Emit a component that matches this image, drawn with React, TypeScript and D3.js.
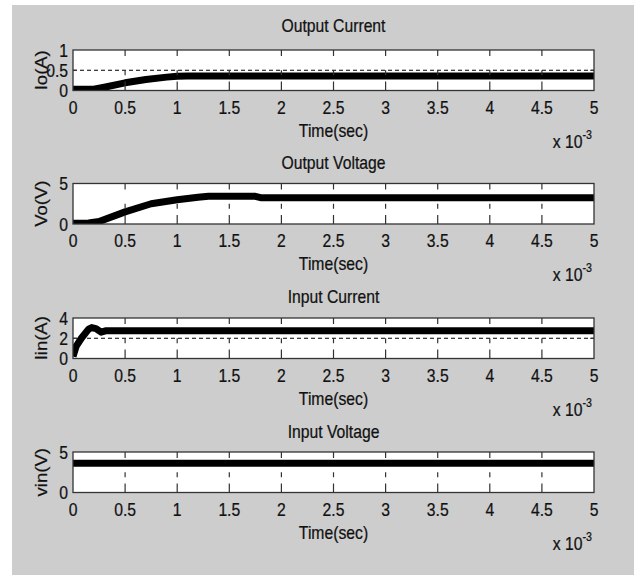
import React from "react";
import * as d3 from "d3";

// ---- data ----
const timeTicks = [0, 0.5, 1, 1.5, 2, 2.5, 3, 3.5, 4, 4.5, 5];
const titles = ["Output Current", "Output Voltage", "Input Current", "Input Voltage"];
const yLabels = ["Io(A)", "Vo(V)", "Iin(A)", "vin(V)"];
const yDomains = [[0, 1], [0, 5], [0, 4], [0, 5]];
const yTicks = [[0, 0.5, 1], [0, 5], [0, 2, 4], [0, 5]];
const refLines = [[0.5], [], [2], []];

const ioTime = [0, 0.2, 0.3, 0.5, 0.7, 0.9, 1.0, 1.1, 5];
const ioValues = [0.03, 0.03, 0.08, 0.19, 0.27, 0.33, 0.35, 0.36, 0.36];
const voTime = [0, 0.15, 0.25, 0.5, 0.75, 1.0, 1.2, 1.3, 1.75, 1.8, 5];
const voValues = [0.1, 0.12, 0.3, 1.5, 2.5, 3.0, 3.3, 3.42, 3.42, 3.25, 3.25];
const iinTime = [0, 0.03, 0.08, 0.15, 0.18, 0.22, 0.27, 0.32, 5];
const iinValues = [0.2, 1.2, 2.0, 2.9, 3.05, 2.95, 2.6, 2.75, 2.75];
const vinTime = [0, 5];
const vinValues = [3.6, 3.6];

const seriesTimes = [ioTime, voTime, iinTime, vinTime];
const seriesValues = [ioValues, voValues, iinValues, vinValues];

// ---- layout ----
const W = 634;
const H = 575;
const left = 73;
const right = 594;
const panelTops = [50, 183.5, 318, 452];
const titleOffsets = [18, 14.5, 15.5, 14.5];
const ph = 40.5;
const SX = 0.85;
const FS = 18.5;
const FONT = "'Liberation Sans', Arial, Helvetica, sans-serif";

function T({ x, y, anchor = "middle", size = FS, children, rotate = false }: any) {
  const tr = rotate
    ? `translate(${x},${y}) scale(${SX},1) rotate(-90)`
    : `translate(${x},${y}) scale(${SX},1)`;
  return (
    <text transform={tr} textAnchor={anchor} fontSize={size} fontFamily={FONT} fill="#111" stroke="#111" strokeWidth={0.25}>
      {children}
    </text>
  );
}

function Panel({ i }: { i: number }) {
  const top = panelTops[i];
  const bottom = top + ph;
  const x = d3.scaleLinear().domain([0, 5]).range([left, right]);
  const y = d3.scaleLinear().domain(yDomains[i]).range([bottom, top]);
  const pts = seriesTimes[i].map((t, k) => [t, seriesValues[i][k]] as [number, number]);
  const line = d3
    .line<[number, number]>()
    .x((d) => x(d[0]))
    .y((d) => y(d[1]));
  const clipId = `clip${i}`;
  const innerTicks = timeTicks.filter((t) => t > 0 && t < 5);
  const innerY = yTicks[i].filter((v) => v > yDomains[i][0] && v < yDomains[i][1]);
  return (
    <g>
      <defs>
        <clipPath id={clipId}>
          <rect x={left} y={top} width={right - left} height={ph} />
        </clipPath>
      </defs>
      <rect x={left} y={top} width={right - left} height={ph} fill="#fff" />
      {refLines[i].map((v) => (
        <line key={v} x1={left} x2={right} y1={y(v)} y2={y(v)} stroke="#000" strokeWidth={1} strokeDasharray="4,3" />
      ))}
      <path d={line(pts) || ""} fill="none" stroke="#000" strokeWidth={7} strokeLinejoin="round" clipPath={`url(#${clipId})`} />
      {innerTicks.map((t) => (
        <g key={t} stroke="#333" strokeWidth={1.2}>
          <line x1={x(t)} x2={x(t)} y1={top} y2={top + 6} />
          <line x1={x(t)} x2={x(t)} y1={top + ph / 2} y2={top + ph / 2 + 5} />
          <line x1={x(t)} x2={x(t)} y1={bottom - 9} y2={bottom} />
        </g>
      ))}
      {innerY.map((v) => (
        <g key={v} stroke="#333" strokeWidth={1}>
          <line x1={left} x2={left + 4} y1={y(v)} y2={y(v)} />
          <line x1={right - 4} x2={right} y1={y(v)} y2={y(v)} />
        </g>
      ))}
      <rect x={left} y={top} width={right - left} height={ph} fill="none" stroke="#333" strokeWidth={1.3} />
      {timeTicks.map((t) => (
        <T key={t} x={x(t)} y={bottom + 23}>
          {String(t)}
        </T>
      ))}
      {yTicks[i].map((v) => (
        <T key={v} x={left - 5} y={y(v) + 6.5} anchor="end">
          {String(v)}
        </T>
      ))}
      <T x={(left + right) / 2} y={top - titleOffsets[i]}>
        {titles[i]}
      </T>
      <T x={(left + right) / 2} y={bottom + 46}>
        Time(sec)
      </T>
      <text transform={`translate(${right - 2},${bottom + 57}) scale(${SX},1)`} textAnchor="end" fontSize={FS} fontFamily={FONT} fill="#111" stroke="#111" strokeWidth={0.25}>
        <tspan>x 10</tspan>
        <tspan fontSize={12.5} dy={-9}>-3</tspan>
      </text>
      <T x={46.5} y={(top + bottom) / 2} rotate size={18.5}>
        {yLabels[i]}
      </T>
    </g>
  );
}

export default function App() {
  return (
    <svg width={W} height={H} style={{ position: "absolute", left: 0, top: 0 }}>
      <rect x={0} y={0} width={W} height={H} fill="#fff" />
      <rect x={12} y={5} width={W - 12} height={H - 5} fill="#cdcdcd" />
      {[0, 1, 2, 3].map((i) => (
        <Panel key={i} i={i} />
      ))}
    </svg>
  );
}
